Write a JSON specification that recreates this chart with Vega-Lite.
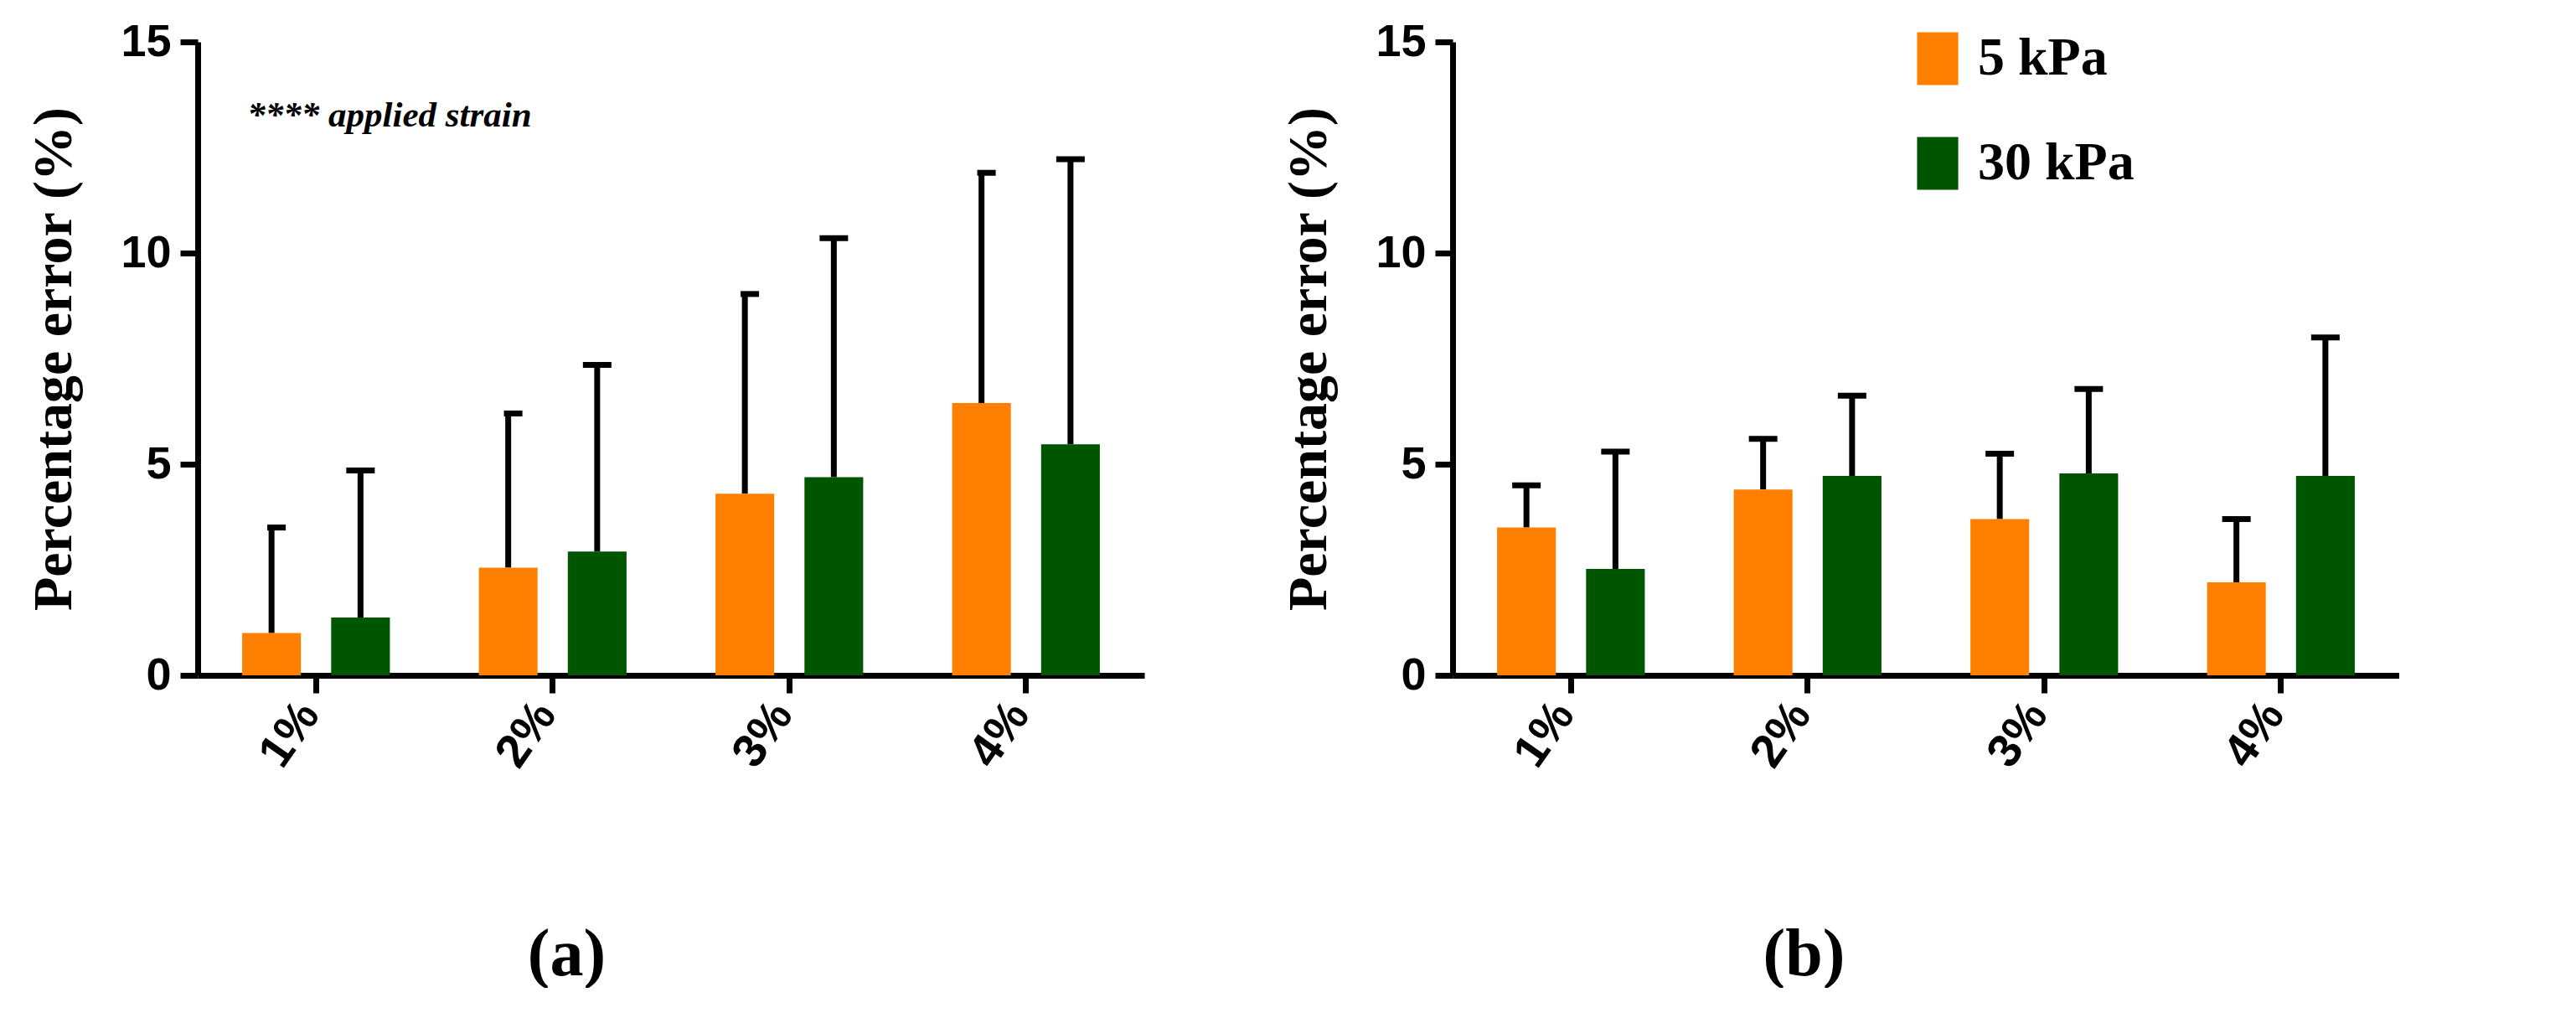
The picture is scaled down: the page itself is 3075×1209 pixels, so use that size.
{
  "$schema": "https://vega.github.io/schema/vega-lite/v6.json",
  "background": "white",
  "padding": {"left": 31, "top": 23, "right": 0, "bottom": 0},
  "bounds": "flush",
  "spacing": 368,
  "datasets": {
    "bars": [
      {"panel": "a", "strain": "1%", "stiffness": "5 kPa", "mean": 1.0, "upper": 3.5},
      {"panel": "a", "strain": "1%", "stiffness": "30 kPa", "mean": 1.37, "upper": 4.85},
      {"panel": "a", "strain": "2%", "stiffness": "5 kPa", "mean": 2.55, "upper": 6.2},
      {"panel": "a", "strain": "2%", "stiffness": "30 kPa", "mean": 2.93, "upper": 7.35},
      {"panel": "a", "strain": "3%", "stiffness": "5 kPa", "mean": 4.3, "upper": 9.03},
      {"panel": "a", "strain": "3%", "stiffness": "30 kPa", "mean": 4.69, "upper": 10.35},
      {"panel": "a", "strain": "4%", "stiffness": "5 kPa", "mean": 6.45, "upper": 11.9},
      {"panel": "a", "strain": "4%", "stiffness": "30 kPa", "mean": 5.47, "upper": 12.22},
      {"panel": "b", "strain": "1%", "stiffness": "5 kPa", "mean": 3.5, "upper": 4.5},
      {"panel": "b", "strain": "1%", "stiffness": "30 kPa", "mean": 2.52, "upper": 5.3},
      {"panel": "b", "strain": "2%", "stiffness": "5 kPa", "mean": 4.4, "upper": 5.6},
      {"panel": "b", "strain": "2%", "stiffness": "30 kPa", "mean": 4.72, "upper": 6.62},
      {"panel": "b", "strain": "3%", "stiffness": "5 kPa", "mean": 3.7, "upper": 5.25},
      {"panel": "b", "strain": "3%", "stiffness": "30 kPa", "mean": 4.78, "upper": 6.78},
      {"panel": "b", "strain": "4%", "stiffness": "5 kPa", "mean": 2.2, "upper": 3.7},
      {"panel": "b", "strain": "4%", "stiffness": "30 kPa", "mean": 4.72, "upper": 8.0}
    ],
    "notes": [
      {"strain": "1%", "y": 13.0, "label": "**** applied strain"}
    ]
  },
  "config": {
    "view": {"stroke": null},
    "axis": {
      "domainColor": "black", "domainWidth": 7, "tickColor": "black", "tickWidth": 7, "tickSize": 21,
      "grid": false, "labelColor": "black", "titleColor": "black"
    },
    "axisY": {
      "labelFont": "Liberation Sans", "labelFontWeight": "bold", "labelFontSize": 54, "labelPadding": 11,
      "titleFont": "Liberation Serif", "titleFontWeight": "bold", "titleFontSize": 66, "titlePadding": 45
    },
    "axisX": {
      "labelFont": "Liberation Sans", "labelFontWeight": "bold", "labelFontSize": 56, "labelAngle": -55,
      "labelAlign": "right", "labelBaseline": "middle", "labelPadding": 16, "labelOffset": -8,
      "titleFont": "Liberation Serif", "titleFontWeight": "bold", "titleFontSize": 80,
      "titleY": 357, "titleBaseline": "alphabetic"
    },
    "legend": {
      "title": null, "orient": "none", "legendX": 2045, "legendY": -12, "padding": 0,
      "symbolType": "M-0.78,-1H0.78V1H-0.78Z", "symbolSize": 3969,
      "symbolStrokeWidth": 0, "symbolOpacity": 1,
      "labelFont": "Liberation Serif", "labelFontWeight": "bold", "labelFontSize": 64,
      "labelColor": "black", "labelOffset": 16, "rowPadding": 61, "labelLimit": 0
    }
  },
  "hconcat": [
    {
      "width": 1130, "height": 756,
      "transform": [{"filter": "datum.panel === 'a'"}],
      "data": {"name": "bars"},
      "encoding": {
        "x": {"field": "strain", "type": "nominal", "sort": ["1%", "2%", "3%", "4%"],
              "scale": {"paddingInner": 0, "paddingOuter": 0},
              "axis": {"title": "(a)", "titleX": 440}},
        "xOffset": {"field": "stiffness", "type": "nominal", "sort": ["5 kPa", "30 kPa"],
                    "scale": {"domain": ["5 kPa", "30 kPa"], "paddingInner": 0.34, "paddingOuter": 0.5}}
      },
      "layer": [
        {
          "mark": {"type": "rule", "color": "black", "strokeWidth": 7},
          "encoding": {
            "y": {"field": "mean", "type": "quantitative"},
            "y2": {"field": "upper"}
          }
        },
        {
          "transform": [{"filter": "datum.stiffness === '30 kPa'"}],
          "mark": {"type": "tick", "color": "black", "thickness": 7, "size": 34, "orient": "horizontal", "opacity": 1},
          "encoding": {"y": {"field": "upper", "type": "quantitative"}}
        },
        {
          "transform": [{"filter": "datum.stiffness === '5 kPa'"}],
          "mark": {"type": "rule", "color": "black", "strokeWidth": 7},
          "encoding": {
            "x": {"field": "strain", "type": "nominal", "sort": ["1%", "2%", "3%", "4%"], "bandPosition": 0.294},
            "x2": {"field": "strain", "bandPosition": 0.372},
            "xOffset": null,
            "y": {"field": "upper", "type": "quantitative"}
          }
        },
        {
          "mark": {"type": "bar", "opacity": 1},
          "encoding": {
            "y": {"field": "mean", "type": "quantitative",
                  "scale": {"domain": [0, 15], "nice": false},
                  "axis": {"values": [0, 5, 10, 15], "title": "Percentage error (%)"}},
            "color": {"field": "stiffness", "type": "nominal", "sort": ["5 kPa", "30 kPa"],
                      "scale": {"domain": ["5 kPa", "30 kPa"], "range": ["#FF8000", "#005500"]}}
          }
        },
        {
          "data": {"name": "notes"},
          "mark": {"type": "text", "font": "Liberation Serif", "fontSize": 43, "fontWeight": "bold",
                   "fontStyle": "italic", "align": "left", "baseline": "alphabetic", "color": "black"},
          "encoding": {
            "x": {"field": "strain", "type": "nominal", "bandPosition": 0.21},
            "xOffset": null,
            "y": {"field": "y", "type": "quantitative"},
            "text": {"field": "label"}
          }
        }
      ]
    },
    {
      "width": 1130, "height": 756,
      "transform": [{"filter": "datum.panel === 'b'"}],
      "data": {"name": "bars"},
      "encoding": {
        "x": {"field": "strain", "type": "nominal", "sort": ["1%", "2%", "3%", "4%"],
              "scale": {"paddingInner": 0, "paddingOuter": 0},
              "axis": {"title": "(b)", "titleX": 419}},
        "xOffset": {"field": "stiffness", "type": "nominal", "sort": ["5 kPa", "30 kPa"],
                    "scale": {"domain": ["5 kPa", "30 kPa"], "paddingInner": 0.34, "paddingOuter": 0.5}}
      },
      "layer": [
        {
          "mark": {"type": "rule", "color": "black", "strokeWidth": 7},
          "encoding": {
            "y": {"field": "mean", "type": "quantitative"},
            "y2": {"field": "upper"}
          }
        },
        {
          "mark": {"type": "tick", "color": "black", "thickness": 7, "size": 34, "orient": "horizontal", "opacity": 1},
          "encoding": {"y": {"field": "upper", "type": "quantitative"}}
        },
        {
          "mark": {"type": "bar", "opacity": 1},
          "encoding": {
            "y": {"field": "mean", "type": "quantitative",
                  "scale": {"domain": [0, 15], "nice": false},
                  "axis": {"values": [0, 5, 10, 15], "title": "Percentage error (%)"}},
            "color": {"field": "stiffness", "type": "nominal", "sort": ["5 kPa", "30 kPa"],
                      "scale": {"domain": ["5 kPa", "30 kPa"], "range": ["#FF8000", "#005500"]}}
          }
        }
      ]
    }
  ],
  "resolve": {"scale": {"x": "independent", "y": "independent", "xOffset": "independent"}}
}
